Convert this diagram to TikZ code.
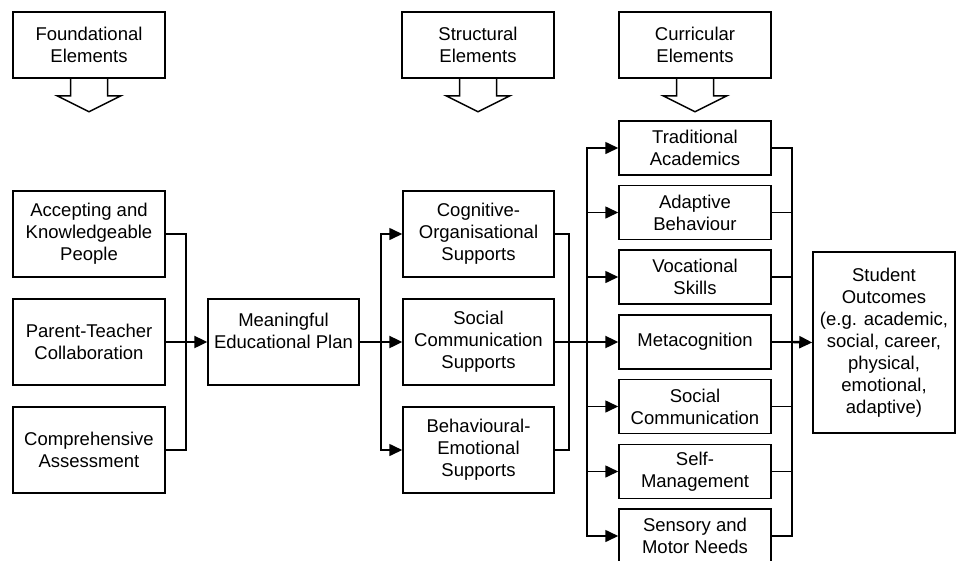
\documentclass[tikz,border=0pt]{standalone}
\usepackage{fontspec}
\setmainfont{Liberation Sans}
\usetikzlibrary{arrows.meta}
\begin{document}
\begin{tikzpicture}[x=1pt,y=-1pt,
  every node/.style={font=\fontsize{18.5}{22}\selectfont},
  box/.style={draw,line width=1.5pt,align=center,inner sep=0pt,minimum width=152pt,minimum height=86pt},
  cbox/.style={box,minimum height=54pt},
  callout/.style={box,minimum height=66pt},
  conn/.style={line width=1.6pt},
  main/.style={line width=2.4pt},
  arr/.style={-{Triangle[length=13pt,width=12pt]}},
  stem/.style={line width=1.5pt,line join=miter}
]
\useasboundingbox (0,0) rectangle (956,560);

% callouts
\node[callout] (fe) at (89,45) {Foundational\\Elements};
\node[callout] (se) at (478,45) {Structural\\Elements};
\node[callout] (ce) at (695,45) {Curricular\\Elements};
\foreach \c in {fe,se,ce}{
  \draw[stem] ([xshift=-18.5pt]\c.south) -- ++(0,17) -- ++(-13.5,0) -- ++(32,16) -- ++(32,-16) -- ++(-13.5,0) -- ++(0,-17);
}

% left boxes
\node[box] (acc) at (89,234) {Accepting and\\Knowledgeable\\People};
\node[box] (ptc) at (89,342) {Parent-Teacher\\Collaboration};
\node[box] (cas) at (89,450) {Comprehensive\\Assessment};

\node[box,minimum width=151pt] (mep) at (283.5,342) {Meaningful\\Educational Plan\\\mbox{}};

% supports
\node[box,minimum width=151pt] (cog) at (478.5,234) {Cognitive-\\Organisational\\Supports};
\node[box,minimum width=151pt] (scs) at (478.5,342) {Social\\Communication\\Supports};
\node[box,minimum width=151pt] (beh) at (478.5,450) {Behavioural-\\Emotional\\Supports};

% curricular
\node[cbox] (tra) at (695,148) {Traditional\\Academics};
\node[cbox] (ada) at (695,212.5) {Adaptive\\Behaviour};
\node[cbox] (voc) at (695,277) {Vocational\\Skills};
\node[cbox] (met) at (695,342) {Metacognition};
\node[cbox] (soc) at (695,406.5) {Social\\Communication};
\node[cbox] (sel) at (695,471.5) {Self-\\Management};
\node[cbox] (sen) at (695,536) {Sensory and\\Motor Needs};

\node[box,minimum width=142pt,minimum height=181pt] (out) at (884,342.5) {Student\\Outcomes\\(e.g. academic,\\social, career,\\physical,\\emotional,\\adaptive)};

% junctions
\coordinate (j1) at (186,342);
\coordinate (j2) at (381,342);
\coordinate (j3) at (569,342);
\coordinate (j4) at (587,342);
\coordinate (j5) at (792,342);

\draw[conn] (acc.east) -| (j1);
\draw[conn] (cas.east) -| (j1);
\draw[main,arr] (ptc.east) -- (mep.west);

\draw[main] (mep.east) -- (j2);
\foreach \t in {cog,beh}{\draw[conn,arr] (j2) |- (\t.west);}
\draw[main,arr] (j2) -- (scs.west);

\draw[conn] (cog.east) -| (j3);
\draw[conn] (beh.east) -| (j3);
\draw[main] (scs.east) -- (j4);
\foreach \t in {tra,ada,voc,soc,sel,sen}{\draw[conn,arr] (j4) |- (\t.west);}
\draw[main,arr] (j4) -- (met.west);

\foreach \t in {tra,ada,voc,soc,sel,sen}{\draw[conn] (\t.east) -| (j5);}
\draw[main] (met.east) -- (j5);
\draw[main,arr] (j5) -- (out.west);
\end{tikzpicture}
\end{document}
